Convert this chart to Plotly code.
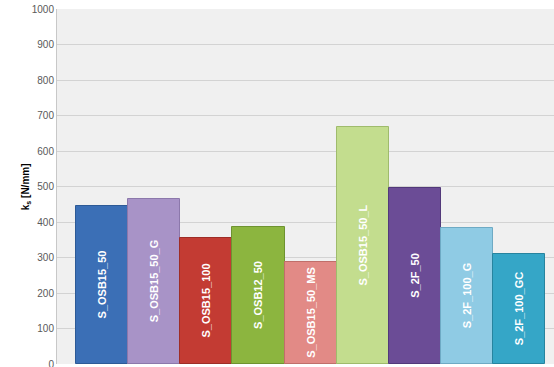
import plotly.graph_objects as go

# Specimen series and their stiffness values k_s [N/mm]
specimens = ["S_OSB15_50", "S_OSB15_50_G", "S_OSB15_100", "S_OSB12_50",
             "S_OSB15_50_MS", "S_OSB15_50_L", "S_2F_50", "S_2F_100_G", "S_2F_100_GC"]
stiffness = [445, 465, 356, 386, 288, 668, 496, 383, 309]
bar_colors = ["#3b6fb6", "#a893c7", "#c33b33", "#8cb53f", "#e28a86",
              "#c3dd8e", "#6b4c96", "#8fcbe4", "#35a6c7"]
edge_colors = ["#2d5a96", "#8c78ab", "#9e2d27", "#6e9330", "#c06e6a",
               "#9fbb6c", "#52397a", "#6eaac4", "#27849f"]
y_ticks = [0, 100, 200, 300, 400, 500, 600, 700, 800, 900, 1000]

fig = go.Figure(go.Bar(
    x=list(range(len(specimens))),
    y=stiffness,
    text=specimens,
    textposition="inside",
    insidetextanchor="middle",
    textangle=-90,
    textfont=dict(family="Arial, Liberation Sans", size=11, color="white", weight="bold"),
    marker=dict(color=bar_colors, line=dict(color=edge_colors, width=1)),
    width=1.0,
    hoverinfo="skip",
))

fig.update_layout(
    width=554, height=367,
    margin=dict(l=57, r=0, t=9, b=3),
    paper_bgcolor="white",
    plot_bgcolor="#f0f0f0",
    showlegend=False,
    bargap=0,
    uniformtext=dict(minsize=8, mode="show"),
    xaxis=dict(range=[-0.865, 8.67], showticklabels=False, showgrid=False,
               zeroline=False, showline=False, ticks="", automargin=False),
    yaxis=dict(range=[0, 1000], tickvals=y_ticks, showgrid=True,
               gridcolor="#d3d3d3", gridwidth=1, zeroline=False,
               showline=True, linecolor="#c8c8c8", linewidth=1,
               ticks="", ticklen=0, ticklabeloverflow="allow", automargin=False,
               tickfont=dict(family="Arial, Liberation Sans", size=10, color="#595959")),
    annotations=[dict(
        text="<b>k<sub>s</sub> [N/mm]</b>", textangle=-90,
        xref="paper", yref="paper", x=-0.063, y=0.5,
        xanchor="center", yanchor="middle", showarrow=False,
        font=dict(family="Arial, Liberation Sans", size=10, color="#000000"),
    )],
)

fig.write_html("out.html")
